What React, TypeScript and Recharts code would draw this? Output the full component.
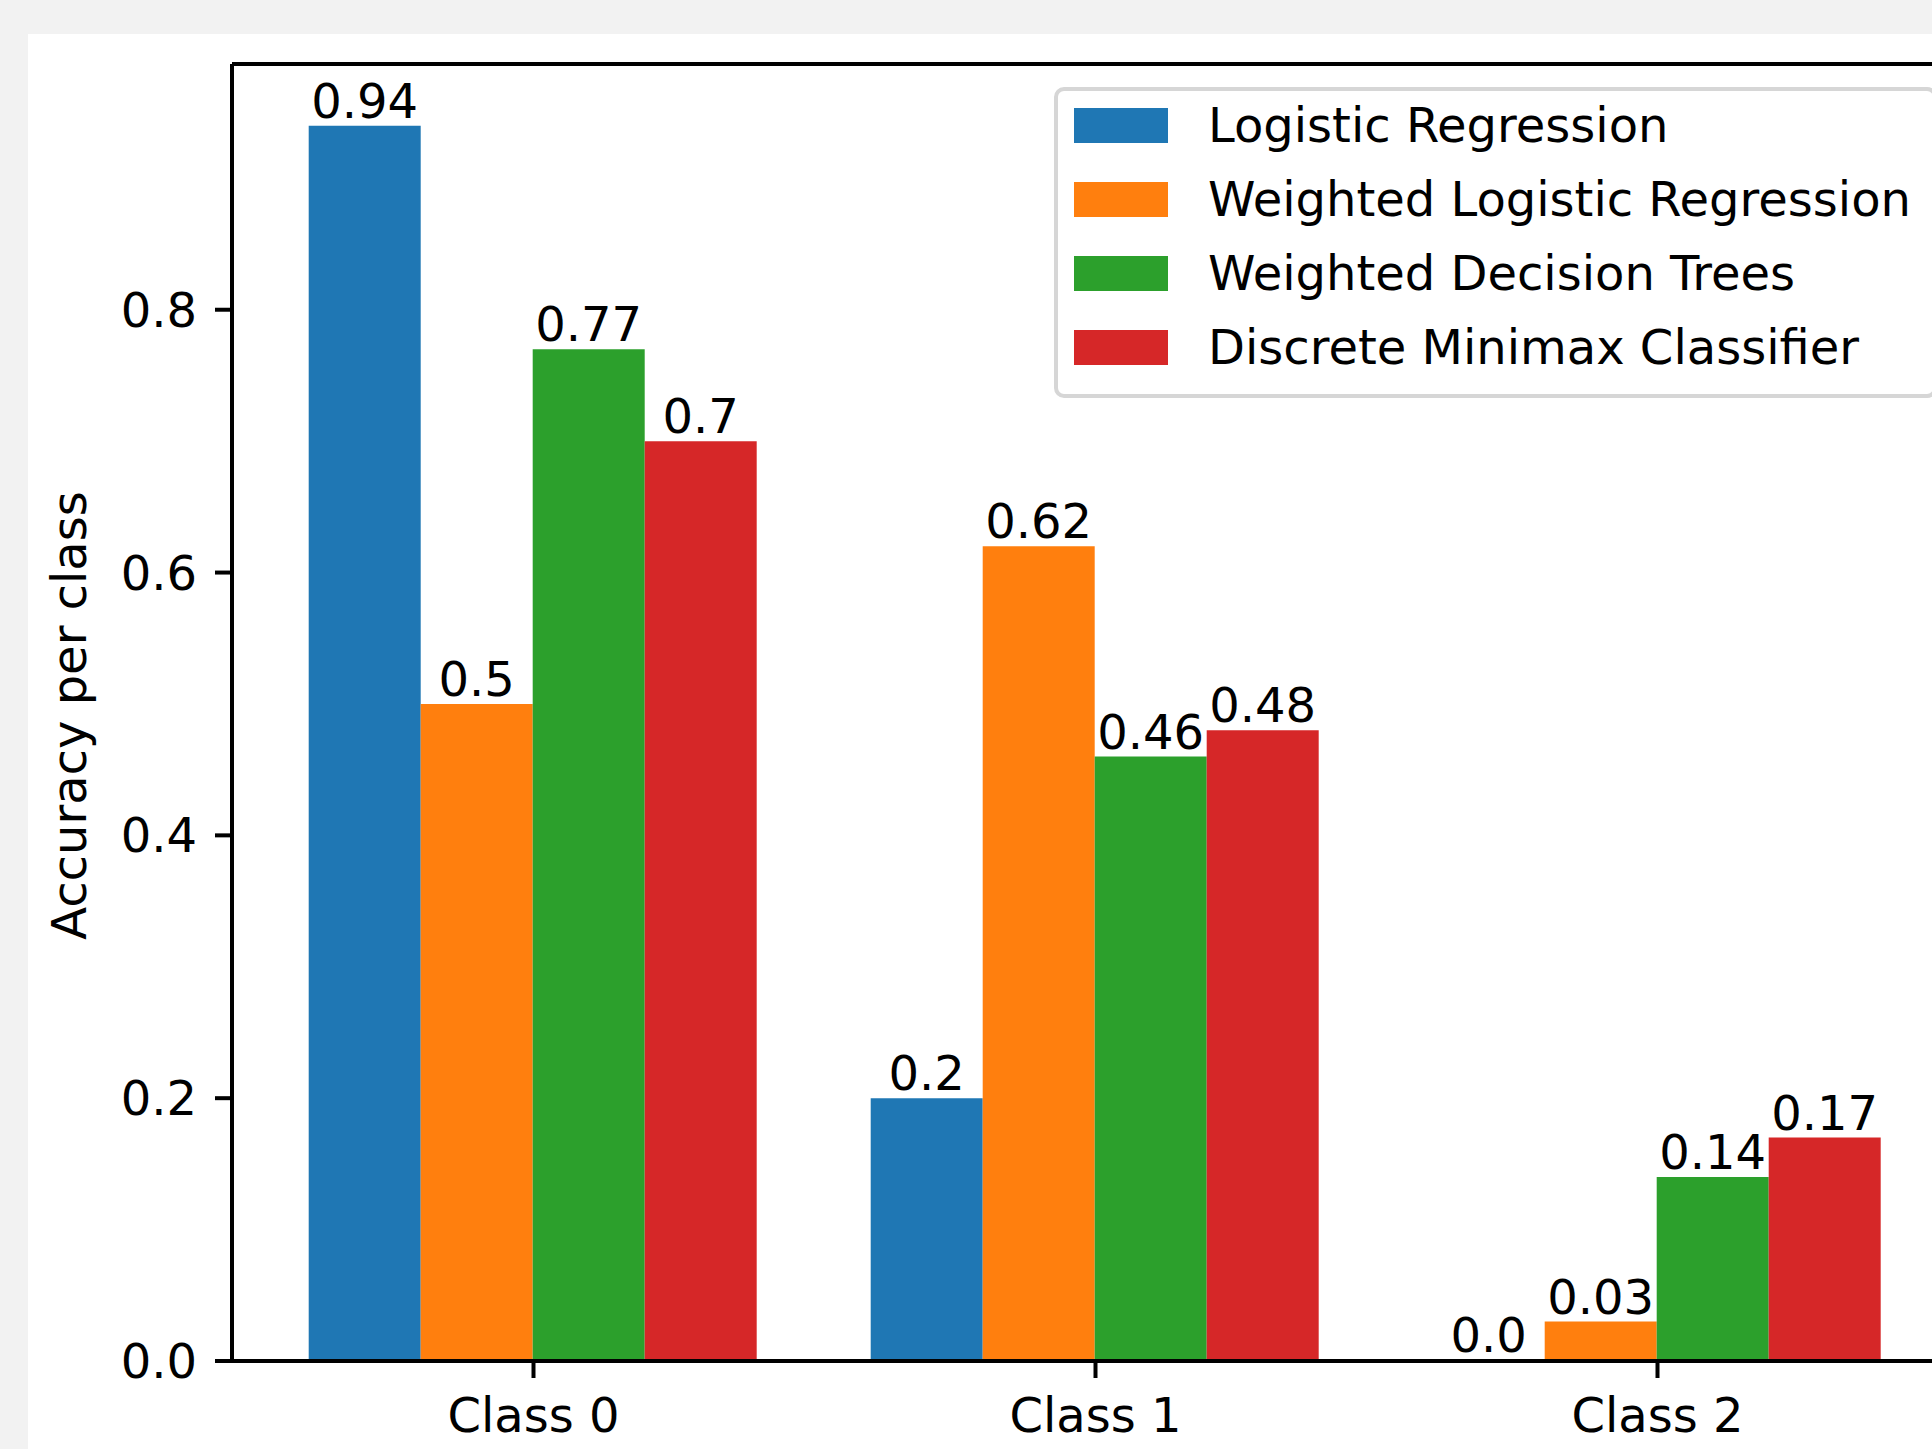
import React from 'react';
import { Bar, BarChart, LabelList, Legend, ReferenceLine, XAxis, YAxis } from 'recharts';

const classes = ['Class 0', 'Class 1', 'Class 2'];
const logistic = [0.94, 0.2, 0.0];
const weightedLogistic = [0.5, 0.62, 0.03];
const weightedTrees = [0.77, 0.46, 0.14];
const minimax = [0.7, 0.48, 0.17];
const yTicks = [0, 0.2, 0.4, 0.6, 0.8];
const yMax = 0.987;

const series = [
  { key: 'lr', name: 'Logistic Regression', color: '#1f77b4', values: logistic },
  { key: 'wlr', name: 'Weighted Logistic Regression', color: '#ff7f0e', values: weightedLogistic },
  { key: 'wdt', name: 'Weighted Decision Trees', color: '#2ca02c', values: weightedTrees },
  { key: 'dmc', name: 'Discrete Minimax Classifier', color: '#d62728', values: minimax },
];

const rows = classes.map((name, i) => {
  const row: Record<string, string | number> = { name };
  series.forEach((s) => { row[s.key] = s.values[i]; });
  return row;
});

const FONT = '"DejaVu Sans", sans-serif';
const FS = 48;

// python str() style: 0 -> "0.0"
const fmt = (v: any) => (Number.isInteger(v) ? Number(v).toFixed(1) : String(v));

const order = (name: string) => series.findIndex((s) => s.name === name);

const renderLegend = (props: any) => {
  const items = [...(props.payload || [])].sort((a: any, b: any) => order(a.value) - order(b.value));
  return (
    <div
      style={{
        boxSizing: 'border-box',
        width: 883,
        border: '4px solid #d6d6d6',
        borderRadius: 10,
        background: 'rgba(255,255,255,0.8)',
        padding: '9px 0 22px 16px',
        fontFamily: FONT,
        fontSize: FS,
        color: '#000',
      }}
    >
      {items.map((it: any, i: number) => (
        <div
          key={it.value}
          style={{ display: 'flex', alignItems: 'center', height: 50, marginTop: i === 0 ? 0 : 24 }}
        >
          <div style={{ width: 94, height: 35, background: it.color, flex: 'none' }} />
          <span style={{ marginLeft: 40, whiteSpace: 'nowrap', lineHeight: 'normal' }}>{it.value}</span>
        </div>
      ))}
    </div>
  );
};

const yLabel = (props: any) => {
  const vb = props.viewBox;
  const cy = vb.y + vb.height / 2 + 3;
  return (
    <text
      x={86}
      y={cy}
      transform={`rotate(-90, 86, ${cy})`}
      textAnchor="middle"
      fontFamily={FONT}
      fontSize={FS}
      fill="#000"
    >
      Accuracy per class
    </text>
  );
};

export default function App() {
  const axisLine = { stroke: '#000', strokeWidth: 4 };
  const tick = { fill: '#000', fontSize: FS, fontFamily: FONT };
  return (
    <div
      style={{
        position: 'absolute',
        left: 0,
        top: 0,
        width: 1932,
        height: 1449,
        overflow: 'hidden',
        background: '#f2f2f2',
      }}
    >
      <div style={{ position: 'absolute', left: 28, top: 34, right: 0, bottom: 0, background: '#fff' }} />
      <div style={{ position: 'absolute', left: 0, top: 0 }}>
        <BarChart
          width={2000}
          height={1449}
          data={rows}
          margin={{ top: 64, right: 41, bottom: 0, left: 0 }}
          barCategoryGap="10%"
          barGap={0}
        >
          <XAxis
            dataKey="name"
            height={88}
            padding={{ left: 20.5, right: 20.5 }}
            tickSize={17}
            tickMargin={20}
            axisLine={axisLine}
            tickLine={axisLine}
            tick={tick}
          />
          <YAxis
            type="number"
            width={232}
            domain={[0, yMax]}
            ticks={yTicks}
            tickFormatter={(v: number) => v.toFixed(1)}
            tickSize={17}
            tickMargin={18}
            axisLine={axisLine}
            tickLine={axisLine}
            tick={tick}
            label={{ content: yLabel }}
          />
          <ReferenceLine y={yMax} stroke="#000" strokeWidth={4} ifOverflow="visible" />
          <Legend
            layout="vertical"
            align="center"
            verticalAlign="middle"
            itemSorter={null as any}
            wrapperStyle={{ top: 87, left: 1054, width: 883, height: 'auto' }}
            content={renderLegend}
          />
          {series.map((s) => (
            <Bar
              key={s.key}
              dataKey={s.key}
              name={s.name}
              fill={s.color}
              minPointSize={1}
              isAnimationActive={false}
            >
              <LabelList
                dataKey={s.key}
                position="top"
                offset={8}
                formatter={fmt}
                fill="#000"
                fontSize={FS}
                fontFamily={FONT}
              />
            </Bar>
          ))}
        </BarChart>
      </div>
    </div>
  );
}
